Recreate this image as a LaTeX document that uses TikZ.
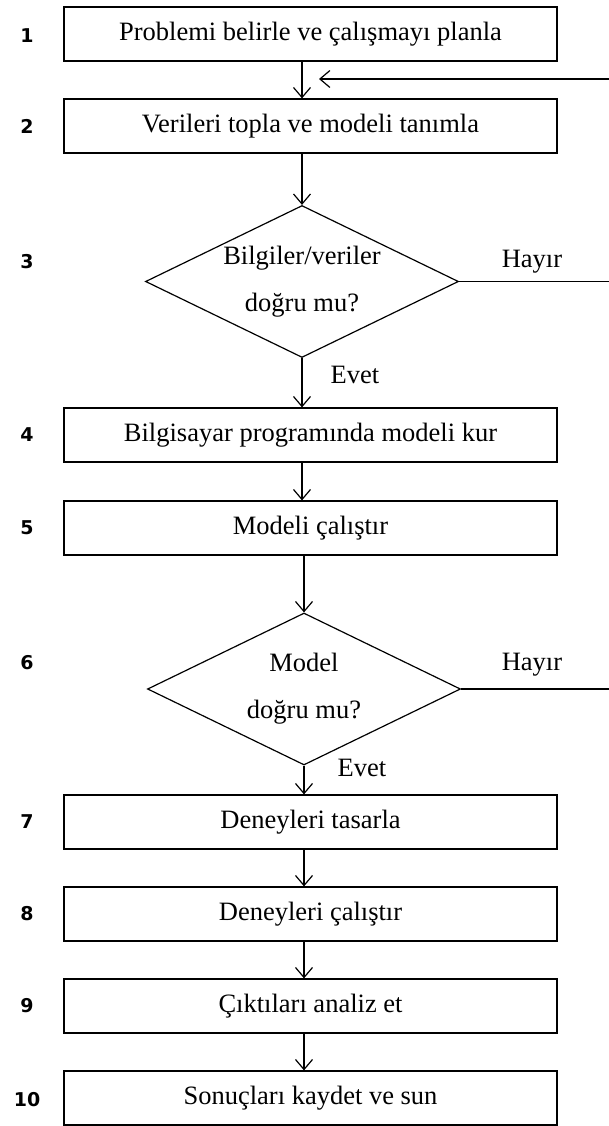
\documentclass[tikz,border=0pt]{standalone}
\usepackage{fontspec}
\setmainfont{Liberation Serif}
\newfontfamily\numfont{DejaVu Sans}
\usetikzlibrary{shapes.geometric,arrows.meta}

\begin{document}
\begin{tikzpicture}[x=1pt,y=-1pt,
			 kutu/.style={rectangle, draw, line width=1.2pt, minimum width=493pt, minimum height=54pt, inner sep=0pt, font=\fontsize{26.5}{30}\selectfont},
			 karar/.style={diamond, draw, line width=1.2pt, aspect=2, minimum width=313pt, minimum height=152pt, inner sep=0pt, align=center, font=\fontsize{26.5}{47}\selectfont},
			 numara/.style={font=\numfont\bfseries\fontsize{19}{22}\selectfont},
			 etiket/.style={font=\fontsize{26.5}{30}\selectfont},
			 ok/.style={line width=1.2pt, -{Straight Barb[length=10pt,width=17pt,line width=1.2pt]}},
			 cizgi/.style={line width=1.2pt}
  		]
	\useasboundingbox (0,0) rectangle (609,1126);

	%Adimlar
		\node[kutu] (k1) at (310.5,34) {Problemi belirle ve çalışmayı planla};
		\node[kutu] (k2) at (310.5,126) {Verileri topla ve modeli tanımla};
		\node[karar] (d3) at (302,281.5) {Bilgiler/veriler\\doğru mu?};
		\node[kutu] (k4) at (310.5,435) {Bilgisayar programında modeli kur};
		\node[kutu] (k5) at (310.5,528) {Modeli çalıştır};
		\node[karar] (d6) at (304,689) {Model\\doğru mu?};
		\node[kutu] (k7) at (310.5,822) {Deneyleri tasarla};
		\node[kutu] (k8) at (310.5,914) {Deneyleri çalıştır};
		\node[kutu] (k9) at (310.5,1006) {Çıktıları analiz et};
		\node[kutu] (k10) at (310.5,1098) {Sonuçları kaydet ve sun};
	%Numaralar
		\node[numara] (n1) at (27,36) {1};
		\node[numara] (n2) at (27,126) {2};
		\node[numara] (n3) at (27,262) {3};
		\node[numara] (n4) at (27,435) {4};
		\node[numara] (n5) at (27,528) {5};
		\node[numara] (n6) at (27,663) {6};
		\node[numara] (n7) at (27,822) {7};
		\node[numara] (n8) at (27,914) {8};
		\node[numara] (n9) at (27,1006) {9};
		\node[numara] (n10) at (27,1100) {10};
	%Evet / Hayir
		\node[etiket] (h3) at (532,262) {Hayır};
		\node[etiket] (e3) at (355,375) {Evet};
		\node[etiket] (h6) at (532,665) {Hayır};
		\node[etiket] (e6) at (362,768) {Evet};
	%Oklar
		\draw[ok] (k1.south -| d3.north) -- (k2.north -| d3.north);
		\draw[ok] (k2.south -| d3.north) -- (d3.north);
		\draw[ok] (d3.south) -- (k4.north -| d3.south);
		\draw[ok] (k4.south -| d3.south) -- (k5.north -| d3.south);
		\draw[ok] (k5.south -| d6.north) -- (d6.north);
		\draw[ok] (d6.south) -- (k7.north -| d6.south);
		\draw[ok] (k7.south -| d6.south) -- (k8.north -| d6.south);
		\draw[ok] (k8.south -| d6.south) -- (k9.north -| d6.south);
		\draw[ok] (k9.south -| d6.south) -- (k10.north -| d6.south);
	%Geri donus
		\coordinate (g1) at (609,79);
		\coordinate (g0) at (319,79);
		\draw[cizgi] (d3.east) -- (d3.east -| g1);
		\draw[cizgi] (d6.east) -- (d6.east -| g1);
		\draw[ok] (g1) -- (g0);
\end{tikzpicture}
\end{document}
